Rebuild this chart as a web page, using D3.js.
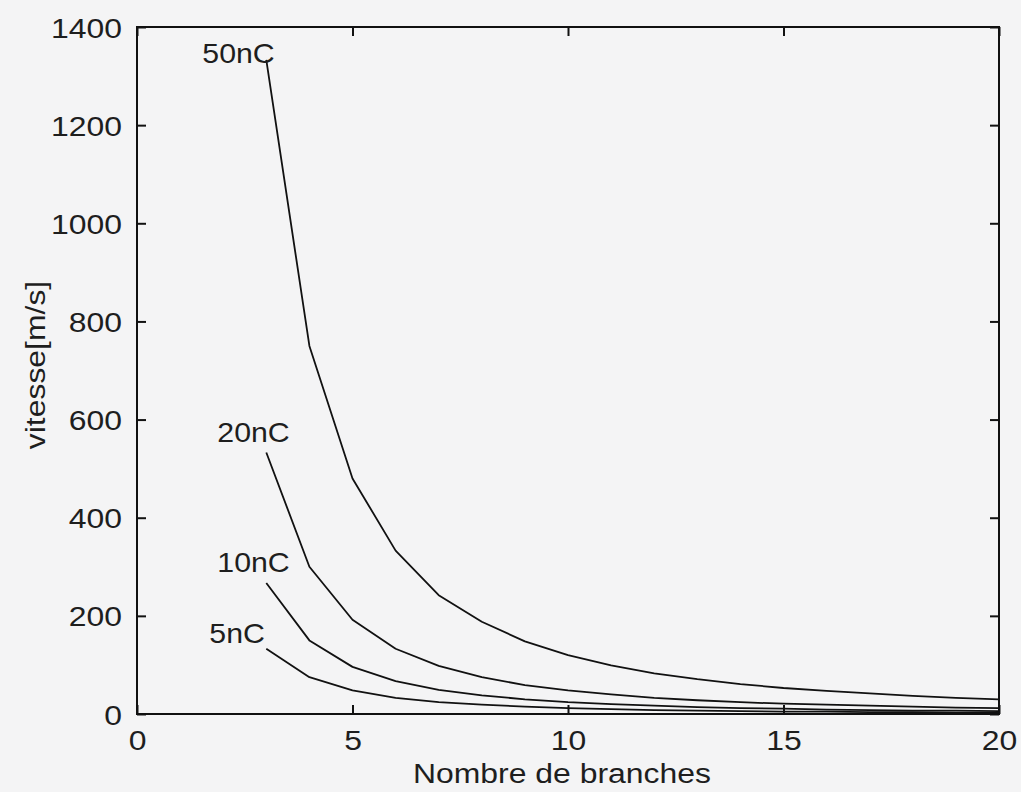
<!DOCTYPE html>
<html>
<head>
<meta charset="utf-8">
<script src="https://cdn.jsdelivr.net/npm/d3@7"></script>
<style>
  html, body { margin: 0; padding: 0; background: #f4f4f5; }
  svg { display: block; }
  text { font-family: "Liberation Sans", Arial, Helvetica, sans-serif; fill: #1e1e1e; }
</style>
</head>
<body>
<svg id="chart" width="1021" height="792"></svg>
<script>
// ---- data ----
const branches = [3, 4, 5, 6, 7, 8, 9, 10, 11, 12, 13, 14, 15, 16, 17, 18, 19, 20];
const seriesNames = ["50nC", "20nC", "10nC", "5nC"];
const v50 = [1333, 750, 480, 333, 242, 188, 148, 120, 99, 83, 71, 61, 53, 47, 42, 37, 33, 30];
const v20 = [533, 300, 192, 133, 98, 75, 59, 48, 40, 33, 28, 24, 21, 19, 17, 15, 13, 12];
const v10 = [267, 150, 96, 67, 49, 38, 30, 24, 20, 17, 14, 12, 11, 9, 8, 7, 7, 6];
const v5  = [133, 75, 48, 33, 24, 19, 15, 12, 10, 8, 7, 6, 5, 5, 4, 4, 3, 3];
const xTicks = [0, 5, 10, 15, 20];
const yTicks = [0, 200, 400, 600, 800, 1000, 1200, 1400];
const xTitle = "Nombre de branches";
const yTitle = "vitesse[m/s]";

const seriesValues = [v50, v20, v10, v5];

(function draw() {
  const svg = d3.select("#chart");
  const pLeft = 137, pRight = 999, pTop = 27, pBottom = 714;
  const FS = 28, SX = 1.14; // font size and horizontal stretch
  const x = d3.scaleLinear().domain([0, 20]).range([pLeft, pRight]);
  const y = d3.scaleLinear().domain([0, 1400]).range([pBottom, pTop]);

  // frame
  svg.append("rect")
    .attr("x", pLeft).attr("y", pTop)
    .attr("width", pRight - pLeft).attr("height", pBottom - pTop)
    .attr("fill", "none").attr("stroke", "#111").attr("stroke-width", 2);

  const tickLen = 9;
  function styleAxis(g) {
    g.select(".domain").remove();
    g.selectAll(".tick line").attr("stroke", "#111").attr("stroke-width", 2);
  }

  // bottom axis (ticks inward)
  const gx = svg.append("g").attr("transform", `translate(0,${pBottom})`)
    .call(d3.axisBottom(x).tickValues(xTicks).tickSize(-tickLen).tickPadding(0).tickFormat(d3.format("d")));
  styleAxis(gx);
  gx.selectAll(".tick text")
    .attr("font-size", FS).attr("dy", null).attr("y", 36)
    .attr("transform", `scale(${SX},1)`)
    .style("font-family", "'Liberation Sans', Arial, sans-serif").attr("fill", "#1e1e1e");

  // top axis (ticks only)
  const gxt = svg.append("g").attr("transform", `translate(0,${pTop})`)
    .call(d3.axisTop(x).tickValues(xTicks).tickSize(-tickLen).tickFormat(""));
  styleAxis(gxt);

  // left axis
  const gy = svg.append("g").attr("transform", `translate(${pLeft},0)`)
    .call(d3.axisLeft(y).tickValues(yTicks).tickSize(-tickLen).tickPadding(0).tickFormat(d3.format("d")));
  styleAxis(gy);
  gy.selectAll(".tick text")
    .attr("font-size", FS).attr("x", -15 / SX).attr("dy", "0.36em")
    .attr("transform", `scale(${SX},1)`)
    .style("font-family", "'Liberation Sans', Arial, sans-serif").attr("fill", "#1e1e1e");

  // right axis (ticks only)
  const gyr = svg.append("g").attr("transform", `translate(${pRight},0)`)
    .call(d3.axisRight(y).tickValues(yTicks).tickSize(-tickLen).tickFormat(""));
  styleAxis(gyr);

  // axis titles
  svg.append("text")
    .attr("transform", `translate(${(pLeft + pRight) / 2 - 6},783) scale(${SX},1)`)
    .attr("text-anchor", "middle").attr("font-size", FS).text(xTitle);
  svg.append("text")
    .attr("transform", `translate(45,365) rotate(-90) scale(${SX},1)`)
    .attr("text-anchor", "middle").attr("font-size", FS).text(yTitle);

  // lines
  const line = d3.line().x(d => x(d[0])).y(d => y(d[1]));
  seriesValues.forEach(vals => {
    svg.append("path")
      .datum(branches.map((b, i) => [b, vals[i]]))
      .attr("d", line)
      .attr("fill", "none").attr("stroke", "#111").attr("stroke-width", 1.8)
      .attr("stroke-linejoin", "round");
  });

  // series labels, placed just above-left of each curve's first point
  const labelOffsets = [[-64, 3], [-49, -10], [-49, -11], [-57, -6]];
  seriesNames.forEach((name, i) => {
    const px = x(branches[0]) + labelOffsets[i][0];
    const py = y(seriesValues[i][0]) + labelOffsets[i][1];
    svg.append("text")
      .attr("transform", `translate(${px},${py}) scale(${SX * 0.95},1)`)
      .attr("font-size", FS).text(name);
  });
})();
</script>
</body>
</html>
